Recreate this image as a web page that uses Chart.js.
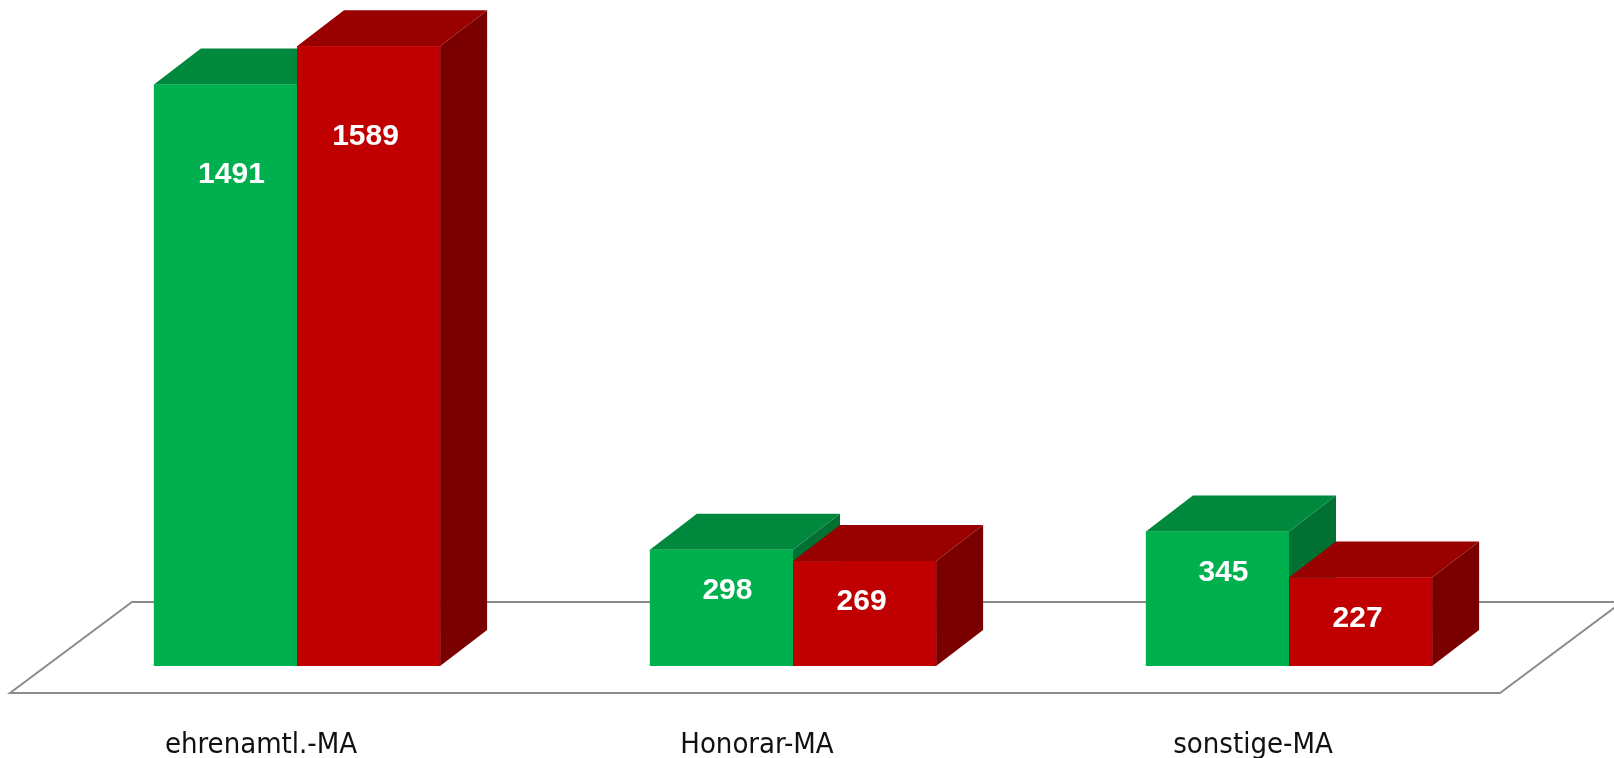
<!DOCTYPE html>
<html>
<head>
<meta charset="utf-8">
<script src="https://cdn.jsdelivr.net/npm/chart.js@4.4.1/dist/chart.umd.min.js"></script>
<style>
  html, body { margin: 0; padding: 0; background: #fff; }
  #wrap { width: 1614px; height: 758px; }
</style>
</head>
<body>
<div id="wrap"><canvas id="myChart"></canvas></div>
<script>
const categories = ["ehrenamtl.-MA", "Honorar-MA", "sonstige-MA"];
const greenValues = [1491, 298, 345];
const redValues = [1589, 269, 227];

// 3d look: depth offset of the boxes
const depthX = 47;
const depthY = -36;

const faceColors = [
  { front: '#00B04F', top: '#00883D', side: '#007033' },
  { front: '#C00000', top: '#990000', side: '#7A0000' }
];

const boxes3d = {
  id: 'boxes3d',
  beforeDatasetsDraw(chart) {
    // floor
    const ctx = chart.ctx;
    const a = chart.chartArea;
    const y0 = chart.scales.y.getPixelForValue(0);
    const fl = a.left - 39, fr = a.right - 37, fy = y0 + 27;
    const bx = 122, by = -91;
    ctx.save();
    ctx.strokeStyle = '#8c8c8c';
    ctx.lineWidth = 2;
    ctx.beginPath();
    ctx.moveTo(fl, fy);
    ctx.lineTo(fr, fy);
    ctx.lineTo(fr + bx, fy + by);
    ctx.lineTo(fl + bx, fy + by);
    ctx.closePath();
    ctx.stroke();
    ctx.restore();
  },
  afterDatasetsDraw(chart) {
    const ctx = chart.ctx;
    // green first, then red on top of it
    chart.data.datasets.forEach(function(ds, i) {
      const col = faceColors[i];
      chart.getDatasetMeta(i).data.forEach(function(bar) {
        const l = bar.x - bar.width / 2, r = bar.x + bar.width / 2;
        const t = bar.y, b = bar.base;
        ctx.save();
        ctx.fillStyle = col.side;
        ctx.beginPath();
        ctx.moveTo(r, t);
        ctx.lineTo(r + depthX, t + depthY);
        ctx.lineTo(r + depthX, b + depthY);
        ctx.lineTo(r, b);
        ctx.closePath();
        ctx.fill();
        ctx.fillStyle = col.top;
        ctx.beginPath();
        ctx.moveTo(l, t);
        ctx.lineTo(l + depthX, t + depthY);
        ctx.lineTo(r + depthX, t + depthY);
        ctx.lineTo(r, t);
        ctx.closePath();
        ctx.fill();
        ctx.fillStyle = col.front;
        ctx.fillRect(l, t, r - l, b - t);
        ctx.restore();
      });
    });
    ctx.save();
    ctx.fillStyle = '#ffffff';
    ctx.font = 'bold 30px "Liberation Sans", Arial, sans-serif';
    ctx.textAlign = 'center';
    ctx.textBaseline = 'middle';
    chart.data.datasets.forEach(function(ds, i) {
      chart.getDatasetMeta(i).data.forEach(function(bar, j) {
        const h = bar.base - bar.y;
        const off = h > 300 ? 90 : 41;
        ctx.fillText(String(ds.data[j]), bar.x + (i === 0 ? 6 : -3), bar.y + off);
      });
    });
    ctx.restore();
  }
};

const data = {
  labels: categories,
  datasets: [
    {
      label: 'grün',
      data: greenValues,
      backgroundColor: faceColors[0].front,
      borderWidth: 0
    },
    {
      label: 'rot',
      data: redValues,
      backgroundColor: faceColors[1].front,
      borderWidth: 0
    }
  ]
};

const config = {
  type: 'bar',
  data: data,
  plugins: [boxes3d],
  options: {
    responsive: true,
    maintainAspectRatio: false,
    animation: false,
    layout: { padding: { left: 49, right: 77, top: 3, bottom: 0 } },
    datasets: {
      bar: { categoryPercentage: 0.577, barPercentage: 1 }
    },
    plugins: {
      legend: { display: false },
      tooltip: { enabled: false }
    },
    scales: {
      x: {
        grid: { display: false, drawTicks: false },
        border: { display: false },
        afterFit(scale) { scale.height = 92; },
        ticks: {
          color: '#111',
          padding: 62,
          labelOffset: -36,
          maxRotation: 0,
          minRotation: 0,
          font: { family: '"DejaVu Sans Condensed", "Liberation Sans Narrow", "Open Sans", sans-serif', size: 29 }
        }
      },
      y: {
        display: false,
        min: 0,
        max: 1700
      }
    }
  }
};

new Chart(document.getElementById('myChart'), config);
</script>
</body>
</html>
